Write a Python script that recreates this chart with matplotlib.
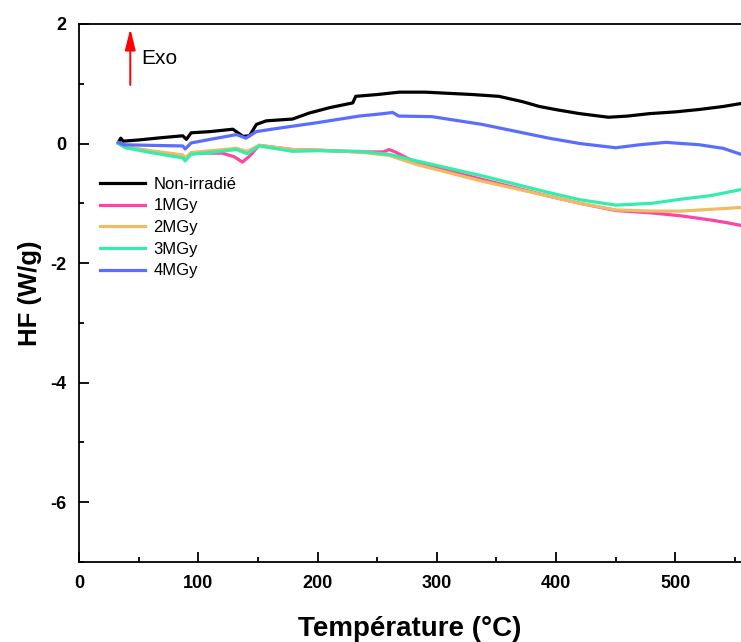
import matplotlib
matplotlib.use("Agg")
import matplotlib.pyplot as plt
from matplotlib.ticker import MultipleLocator

plt.rcParams['font.family'] = ['Liberation Sans', 'DejaVu Sans']
plt.rcParams['axes.unicode_minus'] = False

labels = ["Non-irradié", "1MGy", "2MGy", "3MGy", "4MGy"]
colors = ["#000000", "#ff44a4", "#eebb66", "#33eeaa", "#5b6dff"]

x_non = [33, 35, 37, 50, 70, 87, 90, 94, 110, 129, 137.5, 143, 148.7, 157, 179, 193, 210, 229.5, 232, 250,
         268.6, 290, 310, 330, 352, 372, 386, 402, 420, 444, 460, 478, 500, 520, 540, 555]
y_non = [0.02, 0.09, 0.04, 0.06, 0.1, 0.13, 0.07, 0.18, 0.2, 0.24, 0.12, 0.13, 0.32, 0.38, 0.41, 0.51, 0.6,
         0.68, 0.79, 0.82, 0.86, 0.86, 0.84, 0.82, 0.79, 0.70, 0.62, 0.56, 0.5, 0.44, 0.46, 0.5, 0.53, 0.57,
         0.62, 0.67]

x_1 = [33, 39, 60, 87, 89, 94, 120, 130, 137, 143, 151, 179, 200, 235, 255, 260, 265, 283, 338, 394, 420,
       450, 480, 505, 530, 545, 555]
y_1 = [0.0, -0.06, -0.13, -0.2, -0.25, -0.16, -0.16, -0.22, -0.31, -0.21, -0.03, -0.1, -0.11, -0.14, -0.14,
       -0.1, -0.14, -0.32, -0.6, -0.88, -1.0, -1.12, -1.16, -1.21, -1.28, -1.33, -1.37]

x_2 = [33, 39, 60, 87, 89, 94, 110, 132, 141, 151, 179, 200, 235, 260, 283, 338, 394, 420, 450, 480, 505,
       530, 555]
y_2 = [0.0, -0.05, -0.12, -0.19, -0.24, -0.15, -0.12, -0.08, -0.13, -0.03, -0.1, -0.11, -0.14, -0.2, -0.35,
       -0.63, -0.88, -1.0, -1.11, -1.13, -1.13, -1.1, -1.07]

x_3 = [33, 39, 60, 87, 89, 94, 110, 132, 141, 151, 179, 200, 235, 260, 283, 338, 394, 420, 450, 480, 505,
       530, 555]
y_3 = [0.0, -0.07, -0.15, -0.24, -0.29, -0.18, -0.15, -0.1, -0.17, -0.04, -0.13, -0.12, -0.13, -0.18, -0.29,
       -0.54, -0.82, -0.94, -1.03, -1.0, -0.93, -0.87, -0.77]

x_4 = [33, 37, 60, 87, 89, 94, 110, 132, 140, 148.7, 165, 179, 200, 235, 255, 263, 268, 296, 338, 394, 420,
       450, 470, 492, 520, 540, 555]
y_4 = [0.02, -0.02, -0.03, -0.04, -0.09, 0.01, 0.07, 0.15, 0.09, 0.2, 0.25, 0.29, 0.35, 0.46, 0.5, 0.52,
       0.46, 0.45, 0.32, 0.09, 0.0, -0.07, -0.02, 0.02, -0.02, -0.08, -0.18]

series = [(x_non, y_non), (x_1, y_1), (x_2, y_2), (x_3, y_3), (x_4, y_4)]

fig = plt.figure(figsize=(7.41, 6.42), dpi=100)
ax = fig.add_axes([79 / 741, 1 - 562 / 642, 1 - 79 / 741, (562 - 24) / 642])

for (xs, ys), lab, col in zip(series, labels, colors):
    ax.plot(xs, ys, color=col, lw=2.3, label=lab)

ax.set_xlim(0, 555)
ax.set_ylim(-7, 2)
ax.xaxis.set_major_locator(MultipleLocator(100))
ax.xaxis.set_minor_locator(MultipleLocator(50))
ax.yaxis.set_major_locator(MultipleLocator(2))
ax.yaxis.set_minor_locator(MultipleLocator(1))
ax.tick_params(which='both', direction='in', top=False, right=False, width=1.3)
ax.tick_params(which='major', length=7, labelsize=13, pad=9)
ax.tick_params(which='minor', length=3.5)
for lbl in ax.get_xticklabels() + ax.get_yticklabels():
    lbl.set_fontweight('bold')
for side in ['left', 'bottom', 'top']:
    ax.spines[side].set_linewidth(1.3)
ax.spines['right'].set_visible(False)

ax.set_xlabel("Température (°C)", fontsize=20, fontweight='bold', labelpad=18)
ax.set_ylabel("HF (W/g)", fontsize=18.5, fontweight='bold', labelpad=6)

ax.annotate("", xy=(43, 1.92), xytext=(43, 0.98),
            arrowprops=dict(arrowstyle='-|>,head_length=0.8,head_width=0.2', color='red', lw=1.4,
                            mutation_scale=16, shrinkA=0, shrinkB=0))
ax.text(52, 1.42, "Exo", fontsize=15, va='center', ha='left')

ax.legend(loc='upper left', bbox_to_anchor=(0.032, 0.716), frameon=False, fontsize=12,
          handlelength=2.7, handletextpad=0.5, labelspacing=0.4, borderaxespad=0, borderpad=0)

fig.savefig("out.png", dpi=100)
